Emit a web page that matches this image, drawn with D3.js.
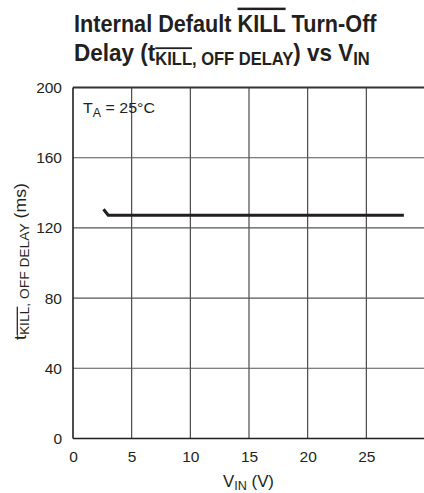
<!DOCTYPE html>
<html><head><meta charset="utf-8">
<script src="https://cdn.jsdelivr.net/npm/d3@7"></script>
<style>
html,body{margin:0;padding:0;background:#fff;}
svg{display:block;}
text{font-family:"Liberation Sans Narrow","Liberation Sans",Arial,sans-serif;fill:#231f20;}
</style></head>
<body>
<script>
const vin = [2.6, 3.0, 28.2];
const delay = [130.6, 127.2, 127.2];
const xTicks = [0, 5, 10, 15, 20, 25];
const yTicks = [0, 40, 80, 120, 160, 200];
const xDomain = [0, 30];
const yDomain = [0, 200];

const W = 424, H = 493;
const svg = d3.select("body").append("svg").attr("width", W).attr("height", H);
const x = d3.scaleLinear().domain(xDomain).range([73, 425]);
const y = d3.scaleLinear().domain(yDomain).range([438.5, 87.5]);

// fit a text element horizontally to a target width (keeps real text)
function fitWidth(sel, x0, y0, target, rotate) {
  const w = sel.node().getComputedTextLength ? sel.node().getBBox().width : target;
  const s = target / w;
  sel.attr("x", 0).attr("y", 0);
  sel.attr("transform", `translate(${x0},${y0})${rotate ? " rotate(-90)" : ""} scale(${s},1)`);
}

// grid
svg.append("g").selectAll("line").data(xTicks.filter(d => d > 0)).join("line")
  .attr("x1", d => x(d)).attr("x2", d => x(d)).attr("y1", y(200)).attr("y2", y(0))
  .attr("stroke", "#3a3a3a").attr("stroke-width", 1.1);
svg.append("g").selectAll("line").data(yTicks.filter(d => d > 0 && d < 200)).join("line")
  .attr("x1", x(0)).attr("x2", x(30)).attr("y1", d => y(d)).attr("y2", d => y(d))
  .attr("stroke", "#555").attr("stroke-width", 1.1);
// frame
svg.append("line").attr("x1", x(0)).attr("x2", x(30)).attr("y1", y(200)).attr("y2", y(200)).attr("stroke", "#333").attr("stroke-width", 1.8);
svg.append("line").attr("x1", x(0)).attr("x2", x(30)).attr("y1", y(0)).attr("y2", y(0)).attr("stroke", "#231f20").attr("stroke-width", 1.6);
svg.append("line").attr("x1", x(0)).attr("x2", x(0)).attr("y1", y(200)).attr("y2", y(0)).attr("stroke", "#231f20").attr("stroke-width", 1.6);
svg.append("line").attr("x1", x(30)).attr("x2", x(30)).attr("y1", y(200)).attr("y2", y(0)).attr("stroke", "#231f20").attr("stroke-width", 1.6);

// axes labels
const xAxis = d3.axisBottom(x).tickValues(xTicks).tickSize(0).tickPadding(12);
const gx = svg.append("g").attr("transform", `translate(0,${y(0)})`).call(xAxis);
gx.select(".domain").remove();
gx.selectAll("text").style("font-size", "15.5px").attr("fill", "#231f20");
const yAxis = d3.axisLeft(y).tickValues(yTicks).tickSize(0).tickPadding(11);
const gy = svg.append("g").attr("transform", `translate(${x(0)},0)`).call(yAxis);
gy.select(".domain").remove();
gy.selectAll("text").style("font-size", "15.5px").attr("fill", "#231f20");

// data line
const line = d3.line().x((d, i) => x(vin[i])).y((d, i) => y(delay[i]));
svg.append("path").datum(delay).attr("d", line).attr("fill", "none")
  .attr("stroke", "#231f20").attr("stroke-width", 3).attr("stroke-linejoin", "miter");

// annotation
const ta = svg.append("text").style("font-size", "15.5px");
ta.append("tspan").text("T");
ta.append("tspan").attr("dy", 4).style("font-size", "12px").text("A");
ta.append("tspan").attr("dy", -4).text(" = 25°C");
fitWidth(ta, 83, 113, 72);

// x title
const xt = svg.append("text").style("font-size", "16px");
xt.append("tspan").text("V");
xt.append("tspan").attr("dy", 3).style("font-size", "12px").text("IN");
xt.append("tspan").attr("dy", -3).text(" (V)");
fitWidth(xt, 223, 487, 51);

// y title
const yt = svg.append("text").style("font-size", "16px");
yt.append("tspan").text("t");
yt.append("tspan").attr("dy", 3).style("font-size", "12.5px").style("text-decoration", "overline").text("KILL");
yt.append("tspan").style("font-size", "12.5px").text(", OFF DELAY");
yt.append("tspan").attr("dy", -3).text(" (ms)");
fitWidth(yt, 26, 340, 157, true);

// title
const t1 = svg.append("text").style("font-size", "24.5px").style("font-weight", "bold");
t1.append("tspan").text("Internal Default ");
t1.append("tspan").style("text-decoration", "overline").text("KILL");
t1.append("tspan").text(" Turn-Off");
fitWidth(t1, 74, 32, 303);
const t2 = svg.append("text").style("font-size", "24.5px").style("font-weight", "bold");
t2.append("tspan").text("Delay (t");
t2.append("tspan").attr("dy", 4).style("font-size", "18px").style("text-decoration", "overline").text("KILL");
t2.append("tspan").style("font-size", "18px").text(", OFF DELAY");
t2.append("tspan").attr("dy", -4).text(") vs V");
t2.append("tspan").attr("dy", 4).style("font-size", "18px").text("IN");
fitWidth(t2, 74, 61, 296);
</script>
</body></html>
